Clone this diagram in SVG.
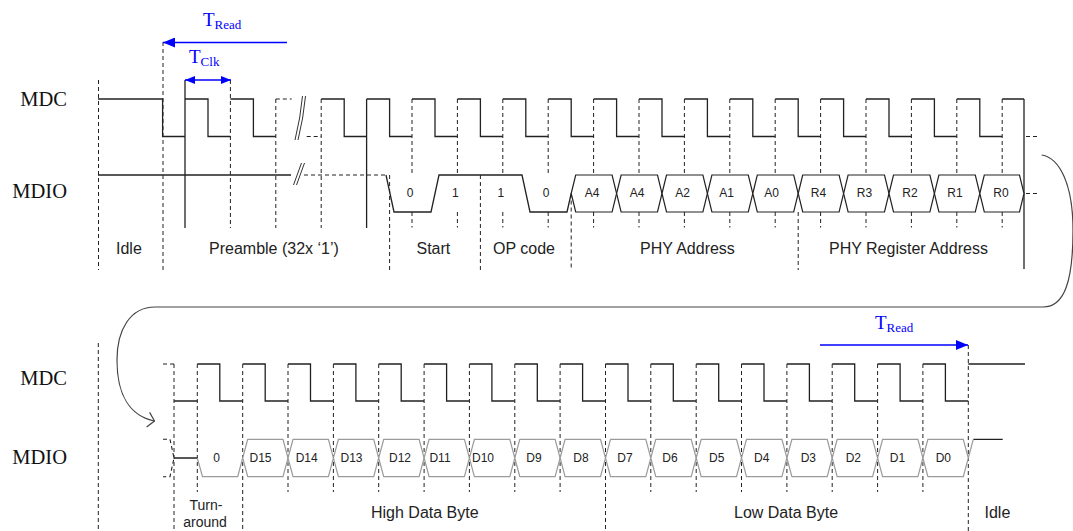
<svg xmlns="http://www.w3.org/2000/svg" width="1073" height="531" viewBox="0 0 1073 531">
<style>
.bg{fill:#fff}
.w{fill:none;stroke:#222;stroke-width:1.3}
.wd{fill:none;stroke:#222;stroke-width:1.1;stroke-dasharray:4 3}
.d{fill:none;stroke:#222;stroke-width:1;stroke-dasharray:4 3}
.s{fill:none;stroke:#222;stroke-width:1.3}
.hx{fill:#fff;stroke:#222;stroke-width:1.2}
.hg{fill:#fff;stroke:#9a9a9a;stroke-width:1.2}
.g{fill:none;stroke:#9a9a9a;stroke-width:1.2}
.sig{font-family:"Liberation Serif","Times New Roman",serif;font-size:20.5px;fill:#111;text-anchor:end}
.lab{font-family:"Liberation Sans",Arial,sans-serif;font-size:16px;fill:#222}
.small{font-size:14px;text-anchor:middle}
.bit{font-family:"Liberation Sans",Arial,sans-serif;font-size:12px;fill:#222;text-anchor:middle}
.tt{font-family:"Liberation Serif","Times New Roman",serif;font-size:19px;fill:#0000ff}
.blue{fill:none;stroke:#0000ff;stroke-width:1.3}
.brk{fill:none;stroke:#333;stroke-width:1}
.conn{fill:none;stroke:#444;stroke-width:1.2}
</style>
<defs>
<marker id="blueArrow" markerUnits="userSpaceOnUse" markerWidth="12" markerHeight="10" viewBox="0 0 12 10" refX="12" refY="5" orient="auto-start-reverse"><path d="M0,0 L12,5 L0,10 z" fill="#0000ff"/></marker>
<marker id="blueSmall" markerUnits="userSpaceOnUse" markerWidth="10" markerHeight="8" viewBox="0 0 10 8" refX="10" refY="4" orient="auto-start-reverse"><path d="M0,0 L10,4 L0,8 z" fill="#0000ff"/></marker>
<marker id="openArrow" markerUnits="userSpaceOnUse" markerWidth="10" markerHeight="18" viewBox="0 0 10 18" refX="9" refY="9" orient="auto"><path d="M2.5,1.5 L9,9 L2.5,16.5" fill="none" stroke="#444" stroke-width="1.2"/></marker>
</defs>
<rect class="bg" x="0" y="0" width="1073" height="531"/>

<g id="signal-labels">
<text class="sig" x="67" y="106">MDC</text>
<text class="sig" x="67" y="198">MDIO</text>
<text class="sig" x="67" y="385">MDC</text>
<text class="sig" x="67" y="464">MDIO</text>
</g>

<g id="top-gridlines">
<path class="d" d="M98.5,80 V270 M163,42 V270 M230.4,80 V228 M275.8,99 V228 M321.2,99 V228"/>
<path class="s" d="M185,80 V228 M366.6,99 V228 M1024,99 V269"/>
<path class="d" d="M412,99 V175 M412,212 V227.5 M457.4,99 V175 M457.4,212 V227.5 M502.8,99 V175 M502.8,212 V227.5 M548.2,99 V175 M548.2,212 V227.5 M593.6,99 V175 M593.6,212 V227.5 M639,99 V175 M639,212 V227.5 M684.4,99 V175 M684.4,212 V227.5 M729.8,99 V175 M729.8,212 V227.5 M775.2,99 V175 M775.2,212 V227.5 M820.6,99 V175 M820.6,212 V227.5 M866,99 V175 M866,212 V227.5 M911.4,99 V175 M911.4,212 V227.5 M956.8,99 V175 M956.8,212 V227.5 M1002.2,99 V175 M1002.2,212 V227.5"/>
<path class="d" d="M389.6,175 V270 M480.4,175 V270 M571.2,193.5 V270 M798.2,212 V270"/>
</g>

<g id="mdc-top">
<path class="w" d="M98,99 H162.6 V136.5 H185 M185,99 H208 V136.5 H230.4 M230.4,99 H253.4 V136.5 H275.8 M321.2,99 H344.2 V136.5 H366.6 M366.6,99 H389.6 V136.5 H412 M412,99 H435 V136.5 H457.4 M457.4,99 H480.4 V136.5 H502.8 M502.8,99 H525.8 V136.5 H548.2 M548.2,99 H571.2 V136.5 H593.6 M593.6,99 H616.6 V136.5 H639 M639,99 H662 V136.5 H684.4 M684.4,99 H707.4 V136.5 H729.8 M729.8,99 H752.8 V136.5 H775.2 M775.2,99 H798.2 V136.5 H820.6 M820.6,99 H843.6 V136.5 H866 M866,99 H889 V136.5 H911.4 M911.4,99 H934.4 V136.5 H956.8 M956.8,99 H979.8 V136.5 H1002.2 M1002.2,99 H1024"/>
<path class="wd" d="M275.8,99 H291.7 M306.7,136.5 H321.2 M1026,136.5 H1037"/>
<path class="brk" d="M302.5,96 Q300.5,118 295,140 M305.5,96 Q303.5,118 298,140"/>
</g>

<g id="mdio-top">
<path class="w" d="M98,175 H291 M386,175 L394,212 H431 L439,175 H522 L530,212 H567 L571.2,193.5"/>
<path class="wd" d="M304,175 H386 M1026,193.5 H1037"/>
<path class="brk" d="M301.5,163 L293.5,185 M304.5,163 L296.5,185"/>
<text class="bit" x="410" y="197">0</text>
<text class="bit" x="455.4" y="197">1</text>
<text class="bit" x="500.8" y="197">1</text>
<text class="bit" x="546.2" y="197">0</text>
</g>

<g id="cell-A4a"><polygon class="hx" points="571.2,193.5 575.7,175 612.1,175 616.6,193.5 612.1,212 575.7,212"/><text class="bit" x="592" y="197">A4</text></g>
<g id="cell-A4b"><polygon class="hx" points="616.6,193.5 621.1,175 657.5,175 662,193.5 657.5,212 621.1,212"/><text class="bit" x="637" y="197">A4</text></g>
<g id="cell-A2"><polygon class="hx" points="662,193.5 666.5,175 702.9,175 707.4,193.5 702.9,212 666.5,212"/><text class="bit" x="682.5" y="197">A2</text></g>
<g id="cell-A1"><polygon class="hx" points="707.4,193.5 711.9,175 748.3,175 752.8,193.5 748.3,212 711.9,212"/><text class="bit" x="726.5" y="197">A1</text></g>
<g id="cell-A0"><polygon class="hx" points="752.8,193.5 757.3,175 793.7,175 798.2,193.5 793.7,212 757.3,212"/><text class="bit" x="771.5" y="197">A0</text></g>
<g id="cell-R4"><polygon class="hx" points="798.2,193.5 802.7,175 839.1,175 843.6,193.5 839.1,212 802.7,212"/><text class="bit" x="818.5" y="197">R4</text></g>
<g id="cell-R3"><polygon class="hx" points="843.6,193.5 848.1,175 884.5,175 889,193.5 884.5,212 848.1,212"/><text class="bit" x="864.5" y="197">R3</text></g>
<g id="cell-R2"><polygon class="hx" points="889,193.5 893.5,175 929.9,175 934.4,193.5 929.9,212 893.5,212"/><text class="bit" x="910" y="197">R2</text></g>
<g id="cell-R1"><polygon class="hx" points="934.4,193.5 938.9,175 975.3,175 979.8,193.5 975.3,212 938.9,212"/><text class="bit" x="955" y="197">R1</text></g>
<g id="cell-R0"><polygon class="hx" points="979.8,193.5 984.3,175 1019.5,175 1024,193.5 1019.5,212 984.3,212"/><text class="bit" x="1001" y="197">R0</text></g>

<g id="top-sections">
<text class="lab" x="116" y="254">Idle</text>
<text class="lab" x="209" y="254">Preamble (32x ‘1’)</text>
<text class="lab" x="416.5" y="254">Start</text>
<text class="lab" x="493" y="254">OP code</text>
<text class="lab" x="640" y="254">PHY Address</text>
<text class="lab" x="829" y="254">PHY Register Address</text>
</g>

<g id="timing-top">
<path class="blue" d="M287,42.5 H163" marker-end="url(#blueArrow)"/>
<text class="tt" x="203" y="26">T<tspan font-size="13" dy="3">Read</tspan></text>
<path class="blue" d="M185,80 H231" marker-start="url(#blueSmall)" marker-end="url(#blueSmall)"/>
<text class="tt" x="189" y="63">T<tspan font-size="13" dy="3">Clk</tspan></text>
</g>

<g id="bottom-gridlines">
<path class="d" d="M98.3,343 V531 M174,364 V531 M197.3,364 V492 M242.7,364 V531 M288,364 V492 M333.4,364 V492 M378.7,364 V492 M424.1,364 V492 M469.4,364 V492 M514.8,364 V492 M560.1,364 V492 M605.5,364 V531 M650.8,364 V492 M696.2,364 V492 M741.5,364 V492 M786.9,364 V492 M832.2,364 V492 M877.6,364 V492 M922.9,364 V492 M968.3,345 V531"/>
</g>

<g id="mdc-bottom">
<path class="wd" d="M163,364 H174"/>
<path class="w" d="M174,401 H197.3 M197.3,364 H219.8 V401 H242.7 M242.7,364 H265.2 V401 H288 M288,364 H310.5 V401 H333.4 M333.4,364 H355.9 V401 H378.7 M378.7,364 H401.2 V401 H424.1 M424.1,364 H446.6 V401 H469.4 M469.4,364 H491.9 V401 H514.8 M514.8,364 H537.3 V401 H560.1 M560.1,364 H582.6 V401 H605.5 M605.5,364 H628 V401 H650.8 M650.8,364 H673.3 V401 H696.2 M696.2,364 H718.7 V401 H741.5 M741.5,364 H764 V401 H786.9 M786.9,364 H809.4 V401 H832.2 M832.2,364 H854.7 V401 H877.6 M877.6,364 H900.1 V401 H922.9 M922.9,364 H945.4 V401 H968.3 M968.3,364 H1025"/>
</g>

<g id="mdio-bottom">
<path class="wd" d="M163,439.3 H170 L174,458 L170,476.7 H163"/>
<path class="w" d="M174,458 H197.3 M973.3,439.3 H1002.7"/>
<path class="g" d="M197.3,458 L202.5,476.7 H237.7 L242.7,458 M968.3,458 L973.3,439.3"/>
<text class="bit" x="216.7" y="462">0</text>
</g>

<g id="cell-D15"><polygon class="hg" points="242.7,458 247.7,439.3 283,439.3 288,458 283,476.7 247.7,476.7"/><text class="bit" x="260.5" y="462">D15</text></g>
<g id="cell-D14"><polygon class="hg" points="288,458 293,439.3 328.4,439.3 333.4,458 328.4,476.7 293,476.7"/><text class="bit" x="306.7" y="462">D14</text></g>
<g id="cell-D13"><polygon class="hg" points="333.4,458 338.4,439.3 373.7,439.3 378.7,458 373.7,476.7 338.4,476.7"/><text class="bit" x="351.5" y="462">D13</text></g>
<g id="cell-D12"><polygon class="hg" points="378.7,458 383.7,439.3 419.1,439.3 424.1,458 419.1,476.7 383.7,476.7"/><text class="bit" x="400" y="462">D12</text></g>
<g id="cell-D11"><polygon class="hg" points="424.1,458 429.1,439.3 464.4,439.3 469.4,458 464.4,476.7 429.1,476.7"/><text class="bit" x="440" y="462">D11</text></g>
<g id="cell-D10"><polygon class="hg" points="469.4,458 474.4,439.3 509.8,439.3 514.8,458 509.8,476.7 474.4,476.7"/><text class="bit" x="483" y="462">D10</text></g>
<g id="cell-D9"><polygon class="hg" points="514.8,458 519.8,439.3 555.1,439.3 560.1,458 555.1,476.7 519.8,476.7"/><text class="bit" x="534" y="462">D9</text></g>
<g id="cell-D8"><polygon class="hg" points="560.1,458 565.1,439.3 600.5,439.3 605.5,458 600.5,476.7 565.1,476.7"/><text class="bit" x="581" y="462">D8</text></g>
<g id="cell-D7"><polygon class="hg" points="605.5,458 610.5,439.3 645.8,439.3 650.8,458 645.8,476.7 610.5,476.7"/><text class="bit" x="625" y="462">D7</text></g>
<g id="cell-D6"><polygon class="hg" points="650.8,458 655.8,439.3 691.2,439.3 696.2,458 691.2,476.7 655.8,476.7"/><text class="bit" x="670" y="462">D6</text></g>
<g id="cell-D5"><polygon class="hg" points="696.2,458 701.2,439.3 736.5,439.3 741.5,458 736.5,476.7 701.2,476.7"/><text class="bit" x="716.7" y="462">D5</text></g>
<g id="cell-D4"><polygon class="hg" points="741.5,458 746.5,439.3 781.9,439.3 786.9,458 781.9,476.7 746.5,476.7"/><text class="bit" x="761.7" y="462">D4</text></g>
<g id="cell-D3"><polygon class="hg" points="786.9,458 791.9,439.3 827.2,439.3 832.2,458 827.2,476.7 791.9,476.7"/><text class="bit" x="808.3" y="462">D3</text></g>
<g id="cell-D2"><polygon class="hg" points="832.2,458 837.2,439.3 872.6,439.3 877.6,458 872.6,476.7 837.2,476.7"/><text class="bit" x="853.3" y="462">D2</text></g>
<g id="cell-D1"><polygon class="hg" points="877.6,458 882.6,439.3 917.9,439.3 922.9,458 917.9,476.7 882.6,476.7"/><text class="bit" x="897.5" y="462">D1</text></g>
<g id="cell-D0"><polygon class="hg" points="922.9,458 927.9,439.3 963.3,439.3 968.3,458 963.3,476.7 927.9,476.7"/><text class="bit" x="943.3" y="462">D0</text></g>

<g id="bottom-sections">
<text class="lab small" x="206" y="510">Turn-</text>
<text class="lab small" x="205" y="527">around</text>
<text class="lab" x="371" y="518">High Data Byte</text>
<text class="lab" x="734" y="518">Low Data Byte</text>
<text class="lab" x="984.5" y="518">Idle</text>
</g>

<g id="timing-bottom">
<path class="blue" d="M820,345 H968" marker-end="url(#blueArrow)"/>
<text class="tt" x="875" y="329">T<tspan font-size="13" dy="3">Read</tspan></text>
</g>

<g id="connectors">
<path class="conn" d="M1041.7,155 C1060,158 1073,185 1073,230 C1073,280 1065,307 1043,307 H155 C130,307 117,330 117,360 C117,395 130,416 154.5,421" marker-end="url(#openArrow)"/>
</g>
</svg>
